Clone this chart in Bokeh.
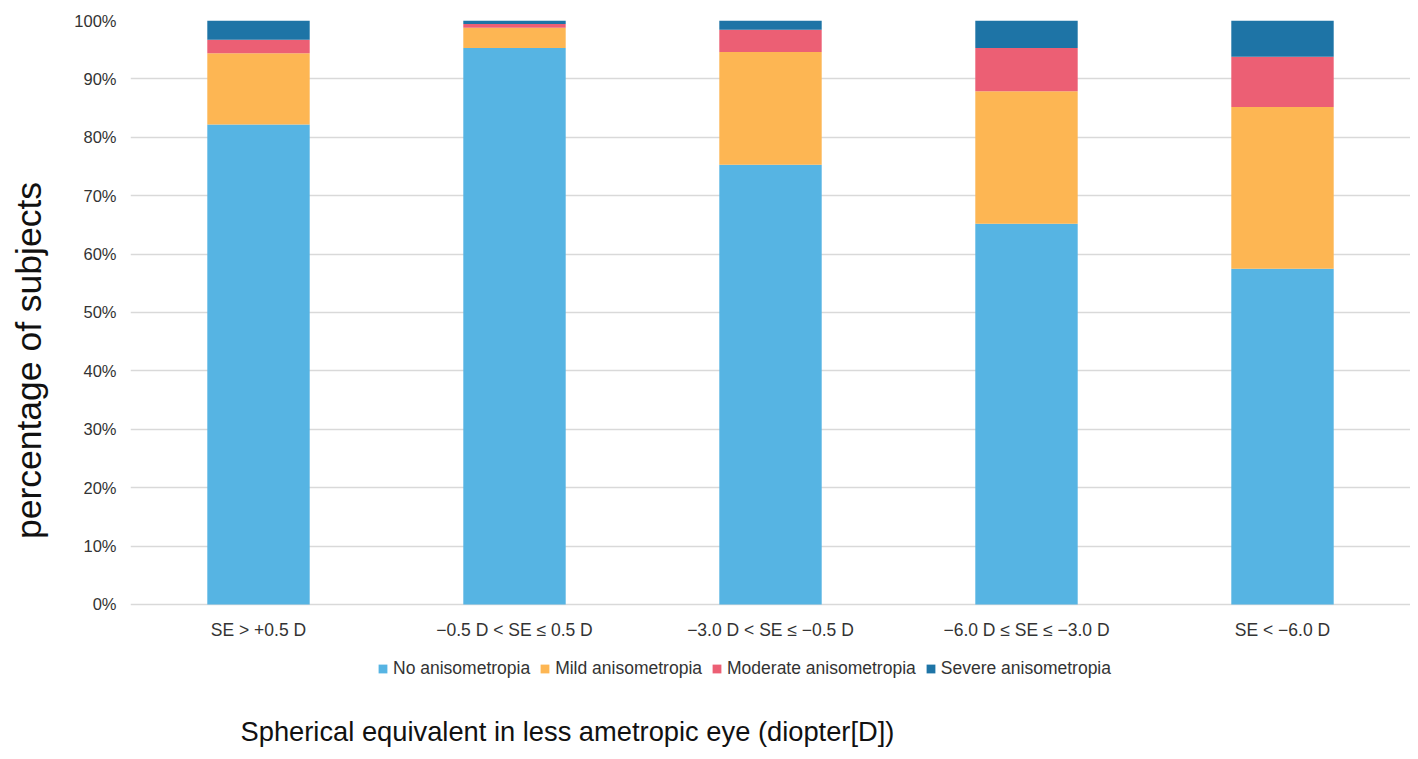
from bokeh.plotting import figure
from bokeh.models import FixedTicker, PrintfTickFormatter, Legend, Title, Range1d
from bokeh.embed import file_html
from bokeh.resources import INLINE

categories = ["SE > +0.5 D", "\u22120.5 D < SE \u2264 0.5 D", "\u22123.0 D < SE \u2264 \u22120.5 D",
              "\u22126.0 D \u2264 SE \u2264 \u22123.0 D", "SE < \u22126.0 D"]
series_names = ["No anisometropia", "Mild anisometropia", "Moderate anisometropia", "Severe anisometropia"]
no_aniso = [82.2, 95.3, 75.3, 65.2, 57.5]
mild_aniso = [12.2, 3.45, 19.3, 22.7, 27.7]
moderate_aniso = [2.3, 0.65, 3.8, 7.4, 8.6]
severe_aniso = [3.3, 0.6, 1.6, 4.7, 6.2]
colors = ["#56B4E3", "#FDB653", "#EC5F74", "#1E74A6"]
y_ticks = [0, 10, 20, 30, 40, 50, 60, 70, 80, 90, 100]

data = {"cat": categories, "s0": no_aniso, "s1": mild_aniso, "s2": moderate_aniso, "s3": severe_aniso}

FONT = "Liberation Sans"

# frame extends below 0% so that the legend can sit inside it, under the category labels
p = figure(x_range=categories, y_range=Range1d(-16.44, 100), frame_width=1280, frame_height=680,
           output_backend="svg", toolbar_location=None,
           min_border_left=130, min_border_right=0, min_border_top=20, min_border_bottom=5)
p.outline_line_color = None

renderers = p.vbar_stack(["s0", "s1", "s2", "s3"], x="cat", width=0.4, color=colors,
                         source=data, line_color=None)

p.xgrid.grid_line_color = None
p.ygrid.grid_line_color = "#d9d9d9"
p.ygrid.grid_line_width = 1.5
p.yaxis.ticker = FixedTicker(ticks=y_ticks)
p.yaxis.formatter = PrintfTickFormatter(format="%d%%")
p.xaxis.fixed_location = 0

for ax in (p.xaxis[0], p.yaxis[0]):
    ax.axis_line_color = None
    ax.major_tick_line_color = None
    ax.minor_tick_line_color = None
    ax.major_label_text_font = FONT
    ax.major_label_text_color = "#333333"

p.xaxis.major_label_text_font_size = "17.5px"
p.yaxis.major_label_text_font_size = "16.5px"
p.yaxis.major_label_standoff = 8
p.xaxis.major_label_standoff = 10
p.yaxis.axis_label = "percentage of subjects"
p.yaxis.axis_label_text_font = FONT
p.yaxis.axis_label_text_font_size = "35.5px"
p.yaxis.axis_label_text_font_style = "normal"
p.yaxis.axis_label_text_color = "#111111"
p.yaxis.axis_label_standoff = 22

legend = Legend(items=[(n, [r]) for n, r in zip(series_names, renderers)],
                orientation="horizontal", location=(247, 21))
legend.border_line_color = None
legend.background_fill_alpha = 0
legend.label_text_font = FONT
legend.label_text_font_size = "17.5px"
legend.label_text_color = "#333333"
legend.glyph_width = 11
legend.glyph_height = 11
legend.label_standoff = 5
legend.spacing = 9
legend.margin = 0
legend.padding = 4
p.add_layout(legend, "center")

xt = Title(text="Spherical equivalent in less ametropic eye (diopter[D])", align="left",
           text_font=FONT, text_font_size="27.3px", text_font_style="normal",
           text_color="#111111", offset=110, standoff=26)
p.add_layout(xt, "below")

open("out.html", "w").write(file_html(p, INLINE))
